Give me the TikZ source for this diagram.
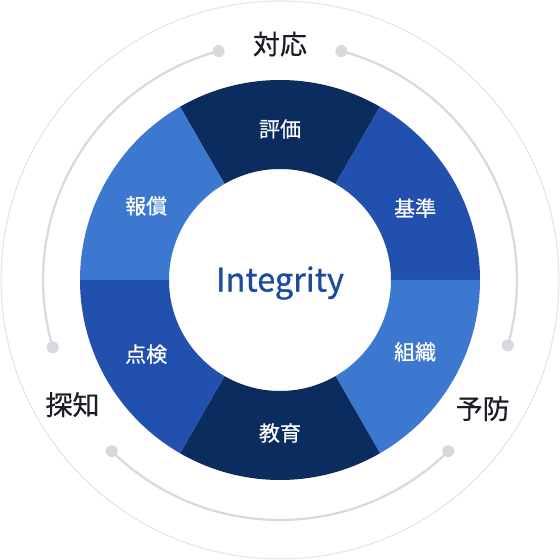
\documentclass[tikz,border=0pt]{standalone}
\usepackage{fontspec}
\setmainfont{Noto Sans CJK JP}
\newfontfamily\medfont[FakeBold=0.8]{Noto Sans CJK JP}
\newfontfamily\semifont[FakeBold=0.5]{Noto Sans CJK JP}
\definecolor{navy}{HTML}{0A2C5F}
\definecolor{midblue}{HTML}{2150AE}
\definecolor{lightblue}{HTML}{3C78D0}
\definecolor{ringgray}{HTML}{D8D9DE}
\definecolor{outergray}{HTML}{E3E3E7}
\definecolor{titleblue}{HTML}{1B4BA0}
\definecolor{textdark}{HTML}{1C1C26}
\tikzset{
  seglabel/.style={text=white,font=\semifont\fontsize{21}{21}\selectfont,inner sep=0pt},
  phaselabel/.style={text=textdark,font=\semifont\fontsize{27}{27}\selectfont,inner sep=0pt},
  enddot/.style={circle,fill=ringgray,minimum size=12pt,inner sep=0pt},
  phasearc/.style={draw=ringgray,line width=2.2pt},
}
\begin{document}
\begin{tikzpicture}[x=1pt,y=1pt]
\useasboundingbox (0,0) rectangle (560,560);
\fill[white] (0,0) rectangle (560,560);
\begin{scope}[shift={(280,280)}]
  \coordinate (c) at (0,0);
  \draw[outergray,line width=1pt] (c) circle[radius=279];
  % ring segments
  \foreach \a/\col in {60/navy,0/midblue,-60/lightblue,-120/navy,180/midblue,120/lightblue}{
    \fill[\col] (\a:200) arc[start angle=\a,end angle=\a+60,radius=200]
      -- (\a+60:111) arc[start angle=\a+60,end angle=\a,radius=111] -- cycle;
  }
  % segment labels
  \node[seglabel] (hyouka) at (90:151) {評価};
  \node[seglabel] (kijun) at (28:153) {基準};
  \node[seglabel] (soshiki) at (-28:153) {組織};
  \node[seglabel] (kyouiku) at (-90:153) {教育};
  \node[seglabel] (tenken) at (209:153) {点検};
  \node[seglabel] (hoshou) at (151:153) {報償};
  \node[text=titleblue,font=\medfont\fontsize{32.5}{32.5}\selectfont,inner sep=0pt] (integ) at (0,-3) {Integrity};
  % outer phase arcs
  \draw[phasearc] (105:237) arc[start angle=105,end angle=196.5,radius=237];
  \draw[phasearc] (75:237) arc[start angle=75,end angle=-16,radius=237];
  \draw[phasearc] (225.5:240) arc[start angle=225.5,end angle=314.5,radius=240];
  \node[enddot] (d1) at (105:237) {};
  \node[enddot] (d2) at (75:237) {};
  \node[enddot] (d3) at (196.5:237) {};
  \node[enddot] (d4) at (-16:237) {};
  \node[enddot] (d5) at (225.5:240) {};
  \node[enddot] (d6) at (314.5:240) {};
  \node[phaselabel] (taiou) at (90:236) {対応};
  \node[phaselabel] (tanchi) at (211:242) {探知};
  \node[phaselabel] (yobou) at (-32.4:240) {予防};
\end{scope}
\end{tikzpicture}
\end{document}
